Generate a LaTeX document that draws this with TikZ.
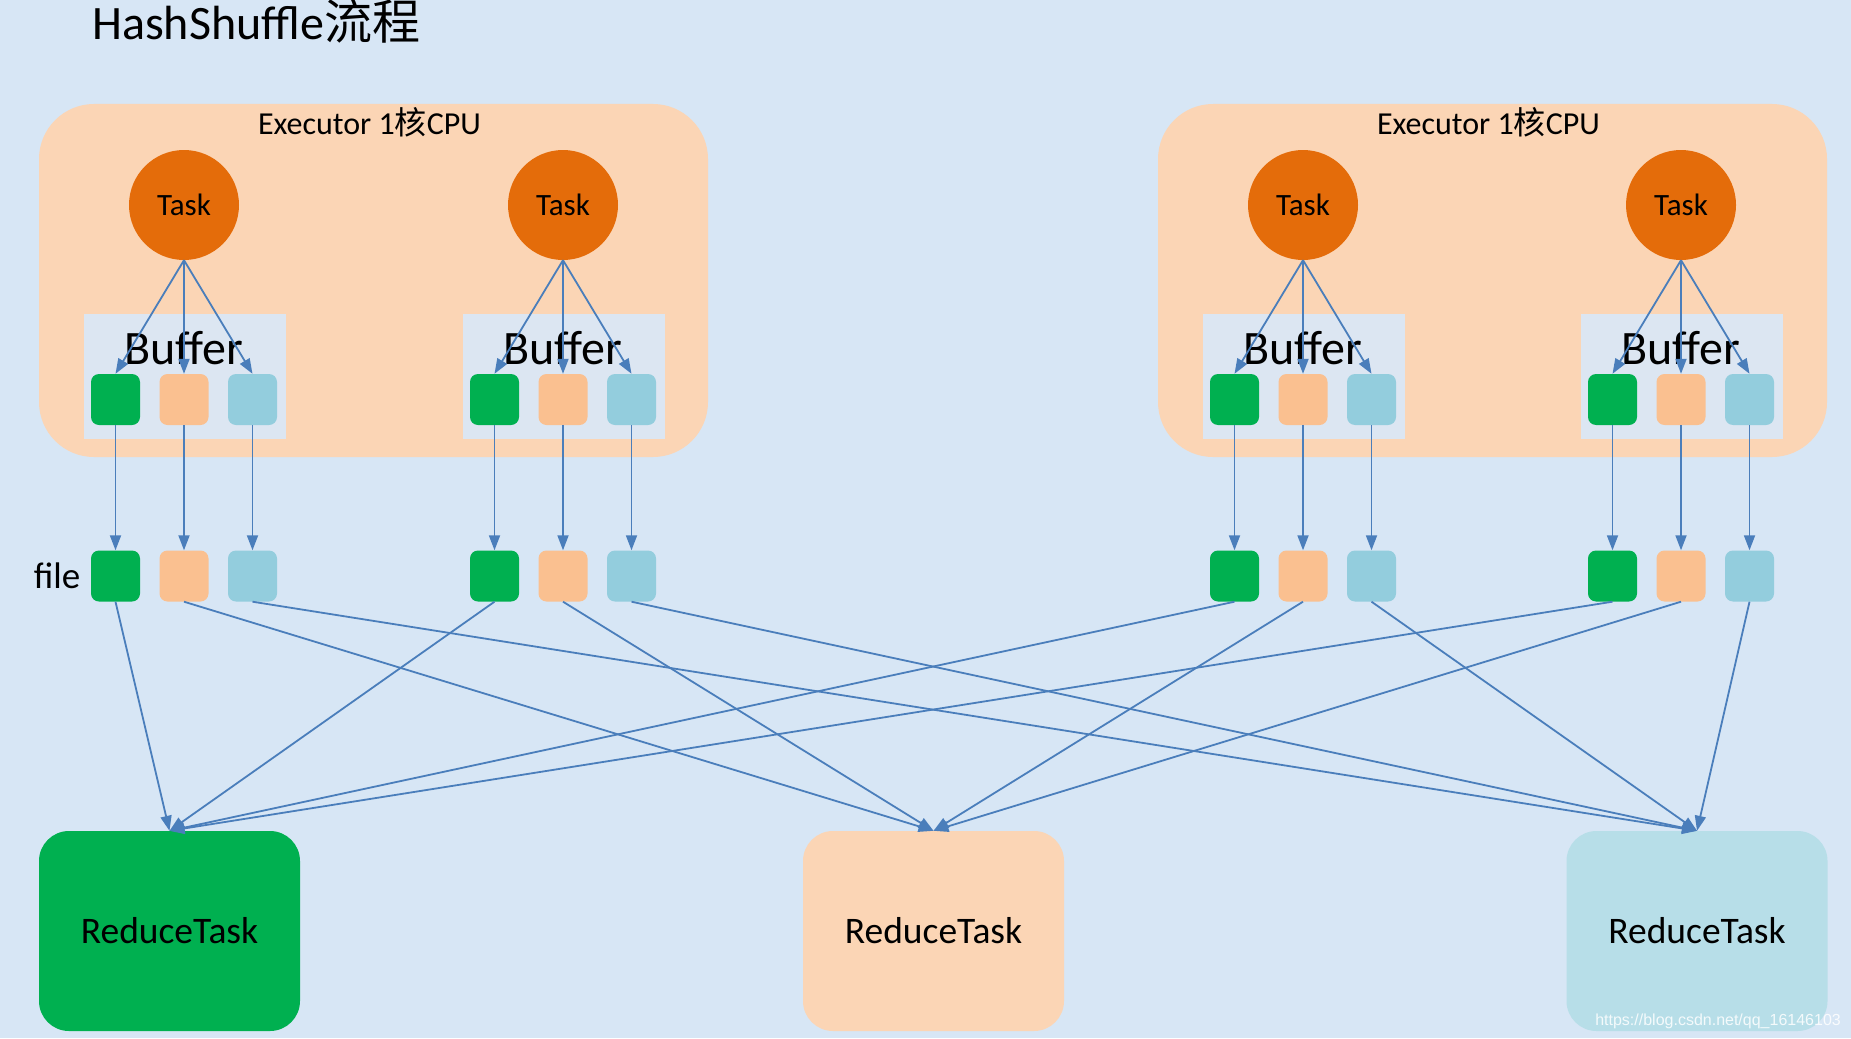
\documentclass[tikz,border=0pt]{standalone}
\usepackage{fontspec}
\setmainfont{Carlito}
\newfontfamily\cjk{Noto Sans CJK SC}
\newfontfamily\wmfont{Liberation Sans}
\usetikzlibrary{arrows.meta,positioning}
\definecolor{bgblue}{HTML}{D7E6F5}
\definecolor{linkblue}{HTML}{4A7EBB}
\definecolor{peach}{HTML}{FBD5B5}
\definecolor{taskorange}{HTML}{E46C0A}
\definecolor{bufgray}{HTML}{DCE6F2}
\definecolor{sqgreen}{HTML}{00B050}
\definecolor{sqorange}{HTML}{FAC090}
\definecolor{sqblue}{HTML}{93CDDD}
\definecolor{redblue}{HTML}{B7DEE8}
\newcommand{\fsz}[1]{\fontsize{#1}{#1}\selectfont}

\tikzset{
  executor/.style={fill=peach,rounded corners=55pt,minimum width=669pt,minimum height=353pt},
  task/.style={circle,fill=taskorange,minimum size=110pt,inner sep=0pt,font=\fsz{31}},
  bufbox/.style={fill=bufgray,minimum width=202pt,minimum height=125pt},
  cell/.style={rounded corners=8pt,minimum width=49pt,minimum height=51pt,inner sep=0pt},
  reduce/.style={rounded corners=30pt,minimum width=261pt,minimum height=200pt,font=\fsz{37.5}},
  link/.style={->,linkblue,line width=1.8pt}
}

\begin{document}
\begin{tikzpicture}[x=1pt,y=-1pt,>={Triangle[length=15pt,width=11pt]}]
\fill[bgblue] (0,0) rectangle (1851,1038);
\useasboundingbox (0,0) rectangle (1851,1038);
\node[anchor=base west,inner sep=0pt,font=\fsz{48}] (title) at (92,40) {HashShuffle{\cjk 流程}};

% executors
\node[executor] (exA) at (373.5,280.5) {};
\node[executor] (exB) at (1492.5,280.5) {};
\foreach \e in {A,B}
  \node[font=\fsz{32}] (lbl\e) at ([xshift=-4pt,yshift=-18pt]ex\e.north) {Executor 1{\cjk 核}CPU};

% tasks, buffers and files
\foreach \t/\x in {1/184,2/563,3/1303,4/1681} {
  \node[task] (t\t) at (\x,205) {Task};
  \node[bufbox] (buf\t) at (\x+1,376.5) {};
  \node[anchor=base,inner sep=0pt,font=\fsz{48}] (buflbl\t) at (\x,364) {Buffer};
  \foreach \c/\col/\dx in {g/sqgreen/-68.5,o/sqorange/0,b/sqblue/68.5} {
    \node[cell,fill=\col] (b\t\c) at (\x+\dx,399.5) {};
    \node[cell,fill=\col] (f\t\c) at (\x+\dx,576) {};
  }
}
\node[font=\fsz{37},left=7pt of f1g] (filelbl) {file};

% reduce side
\node[reduce,fill=sqgreen] (rg) at (169.5,931) {ReduceTask};
\node[reduce,fill=peach] (ro) at (933.5,931) {ReduceTask};
\node[reduce,fill=redblue] (rb) at (1697,931) {ReduceTask};

\foreach \t in {1,...,4} {
  \foreach \c in {g,o,b} {
    \draw[link] (t\t.south) -- (b\t\c.north);
    \draw[link] (b\t\c.south) -- (f\t\c.north);
    \draw[link] (f\t\c.south) -- (r\c.north);
  }
}

\node[anchor=base east,inner sep=0pt,text=white,opacity=0.85,font=\wmfont\fsz{16}] (wm) at (1841,1025) {https://blog.csdn.net/qq\_16146103};
\end{tikzpicture}
\end{document}
